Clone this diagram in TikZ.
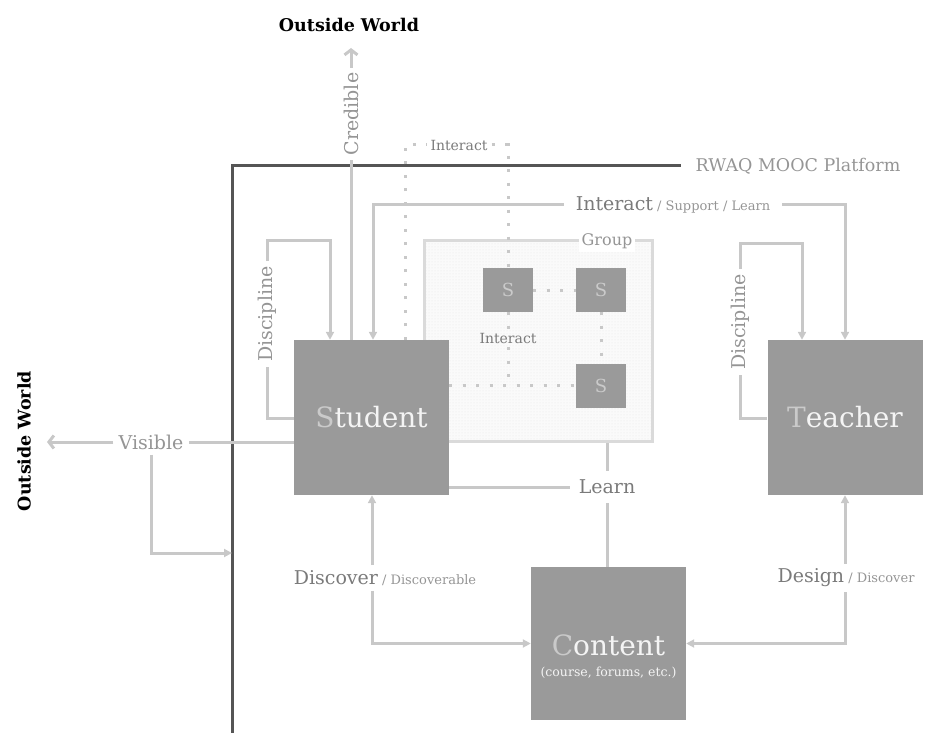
\documentclass[tikz,border=0pt]{standalone}
\usepackage{fontspec}
\setmainfont{DejaVu Serif}
\usetikzlibrary{arrows.meta, patterns}

\definecolor{framecol}{HTML}{555555}
\definecolor{conncol}{HTML}{C8C8C8}
\definecolor{labcol}{HTML}{959595}
\definecolor{labdark}{HTML}{7A7A7A}
\definecolor{boxcol}{HTML}{9A9A9A}
\definecolor{boxtext}{HTML}{F4F4F4}
\definecolor{initcol}{HTML}{CACACA}
\definecolor{groupcol}{HTML}{DADADA}
\definecolor{groupbg}{HTML}{FAFAFA}

\newcommand{\smallpart}[1]{{\fontsize{13}{15}\selectfont\color{labcol}#1}}

\begin{document}
\begin{tikzpicture}[x=1pt, y=-1pt,
    lbl/.style={text=labcol, inner sep=5pt, font=\fontsize{19}{22}\selectfont},
    keylbl/.style={lbl, text=labdark},
    lblsm/.style={text=labdark, inner sep=4pt, font=\fontsize{14}{16}\selectfont},
    actor/.style={fill=boxcol, text=boxtext, minimum width=155pt, minimum height=155pt,
                  inner sep=0pt, font=\fontsize{28}{32}\selectfont},
    sbox/.style={fill=boxcol, text=initcol, minimum width=50pt, minimum height=44pt,
                 inner sep=0pt, font=\fontsize{18}{20}\selectfont},
    groupbox/.style={draw=groupcol, line width=3pt, minimum width=228pt, minimum height=201pt,
                     preaction={fill=groupbg}, pattern=dots, pattern color=black!10},
    conn/.style={draw=conncol, line width=3pt},
    tip/.style={-{Triangle[length=8pt,width=8pt]}},
    outtip/.style={-{Straight Barb[length=5pt,width=13pt]}},
    dots/.style={draw=conncol, line width=3pt, dash pattern=on 3pt off 10.5pt},
    outside/.style={font=\fontsize{17.5}{20}\selectfont\bfseries},
]
    \useasboundingbox (0,0) rectangle (927,733);

    %==================== OUTSIDE WORLD ====================
    \node[outside] (owtop) at (349,25) {Outside World};
    \node[outside, rotate=90] (owleft) at (24,441) {Outside World};

    %==================== PLATFORM FRAME ====================
    \node[lbl, inner xsep=14pt, font=\fontsize{17.5}{20}\selectfont] (platform) at (798,166)
        {RWAQ MOOC Platform};
    \draw[line width=3pt, framecol] (232,733) |- (platform);

    %==================== GROUP ====================
    \node[groupbox] (group) at (538.5,341) {};
    \node[lbl, fill=white, inner sep=3pt, font=\fontsize{16}{18}\selectfont] (grouptag)
        at (607,241) {Group};
    \node[sbox] (s1) at (508,290) {S};
    \node[sbox] (s2) at (601,290) {S};
    \node[sbox] (s3) at (601,385.5) {S};

    %==================== ACTORS ====================
    \node[actor] (student) at (371.5,417.5) {\textcolor{initcol}{S}tudent};
    \node[actor] (teacher) at (845,417.5) {\textcolor{initcol}{T}eacher};
    \node[actor, minimum height=153pt] (content) at (608.5,643.5) {};
    \node[text=boxtext, font=\fontsize{28}{32}\selectfont] (ctitle) at (608.5,645)
        {\textcolor{initcol}{C}ontent};
    \node[text=boxtext, font=\fontsize{12.5}{14}\selectfont] (csub) at (608.5,673)
        {(course, forums, etc.)};

    %==================== dotted interaction ====================
    \draw[dots] (s1) -- (s2);
    \draw[dots] (s2) -- (s3);
    \draw[dots] (student.east |- s3) -- (s3);
    \node[lblsm] (intgroup) at (508,338) {Interact};
    \draw[dots] (s1) -- (intgroup);
    \draw[dots] (intgroup) -- (s1 |- s3);

    \node[lblsm] (inttop) at (459,145) {Interact};
    \draw[dots] (student.north -| 405,0) |- (inttop);
    \draw[dots] (inttop) -| (s1);

    %==================== credible / visible ====================
    \node[lbl, rotate=90] (credible) at (351,114) {Credible};
    \coordinate (uptip) at (351,48);
    \draw[conn] (student.north -| credible) -- (credible);
    \draw[conn, outtip] (credible) -- (uptip);

    \node[lbl] (visible) at (151,442) {Visible};
    \coordinate (lefttip) at (47,442);
    \coordinate (entry) at (232,553);
    \draw[conn] (student.west |- visible) -- (visible);
    \draw[conn, outtip] (visible) -- (lefttip);
    \draw[conn, tip] (visible.south) |- (entry);

    %==================== discipline loops ====================
    \node[lbl, rotate=90] (discs) at (267,314) {Discipline};
    \draw[conn] (student.west |- 0,418) -| (discs);
    \draw[conn, tip] (discs) |- (330,240) -- (student.north -| 330,0);

    \node[lbl, rotate=90] (disct) at (740,322) {Discipline};
    \draw[conn] (teacher.west |- 0,418) -| (disct);
    \draw[conn, tip] (disct) |- (802,243) -- (teacher.north -| 802,0);

    %==================== interact / support / learn ====================
    \node[keylbl, inner xsep=12pt] (isl) at (673,205)
        {Interact\smallpart{\ / Support / Learn}};
    \draw[conn, tip] (isl) -| (student.north -| 373,0);
    \draw[conn, tip] (isl) -| (teacher.north);

    %==================== learn ====================
    \node[keylbl, inner sep=9pt] (learn) at (607,487) {Learn};
    \draw[conn] (student.east |- learn) -- (learn);
    \draw[conn] (group.south -| learn) -- (learn);
    \draw[conn] (learn) -- (content.north -| learn);

    %==================== discover / design ====================
    \node[keylbl] (discover) at (385,578) {Discover\smallpart{\ / Discoverable}};
    \draw[conn, tip] (discover.north -| 372,0) -- (student.south -| 372,0);
    \draw[conn, tip] (discover.south -| 372,0) |- (content.west);

    \node[keylbl] (design) at (846,578) {Design\smallpart{\ / Discover}};
    \draw[conn, tip] (design.north -| teacher) -- (teacher.south);
    \draw[conn, tip] (design.south -| teacher) |- (content.east);

\end{tikzpicture}
\end{document}
